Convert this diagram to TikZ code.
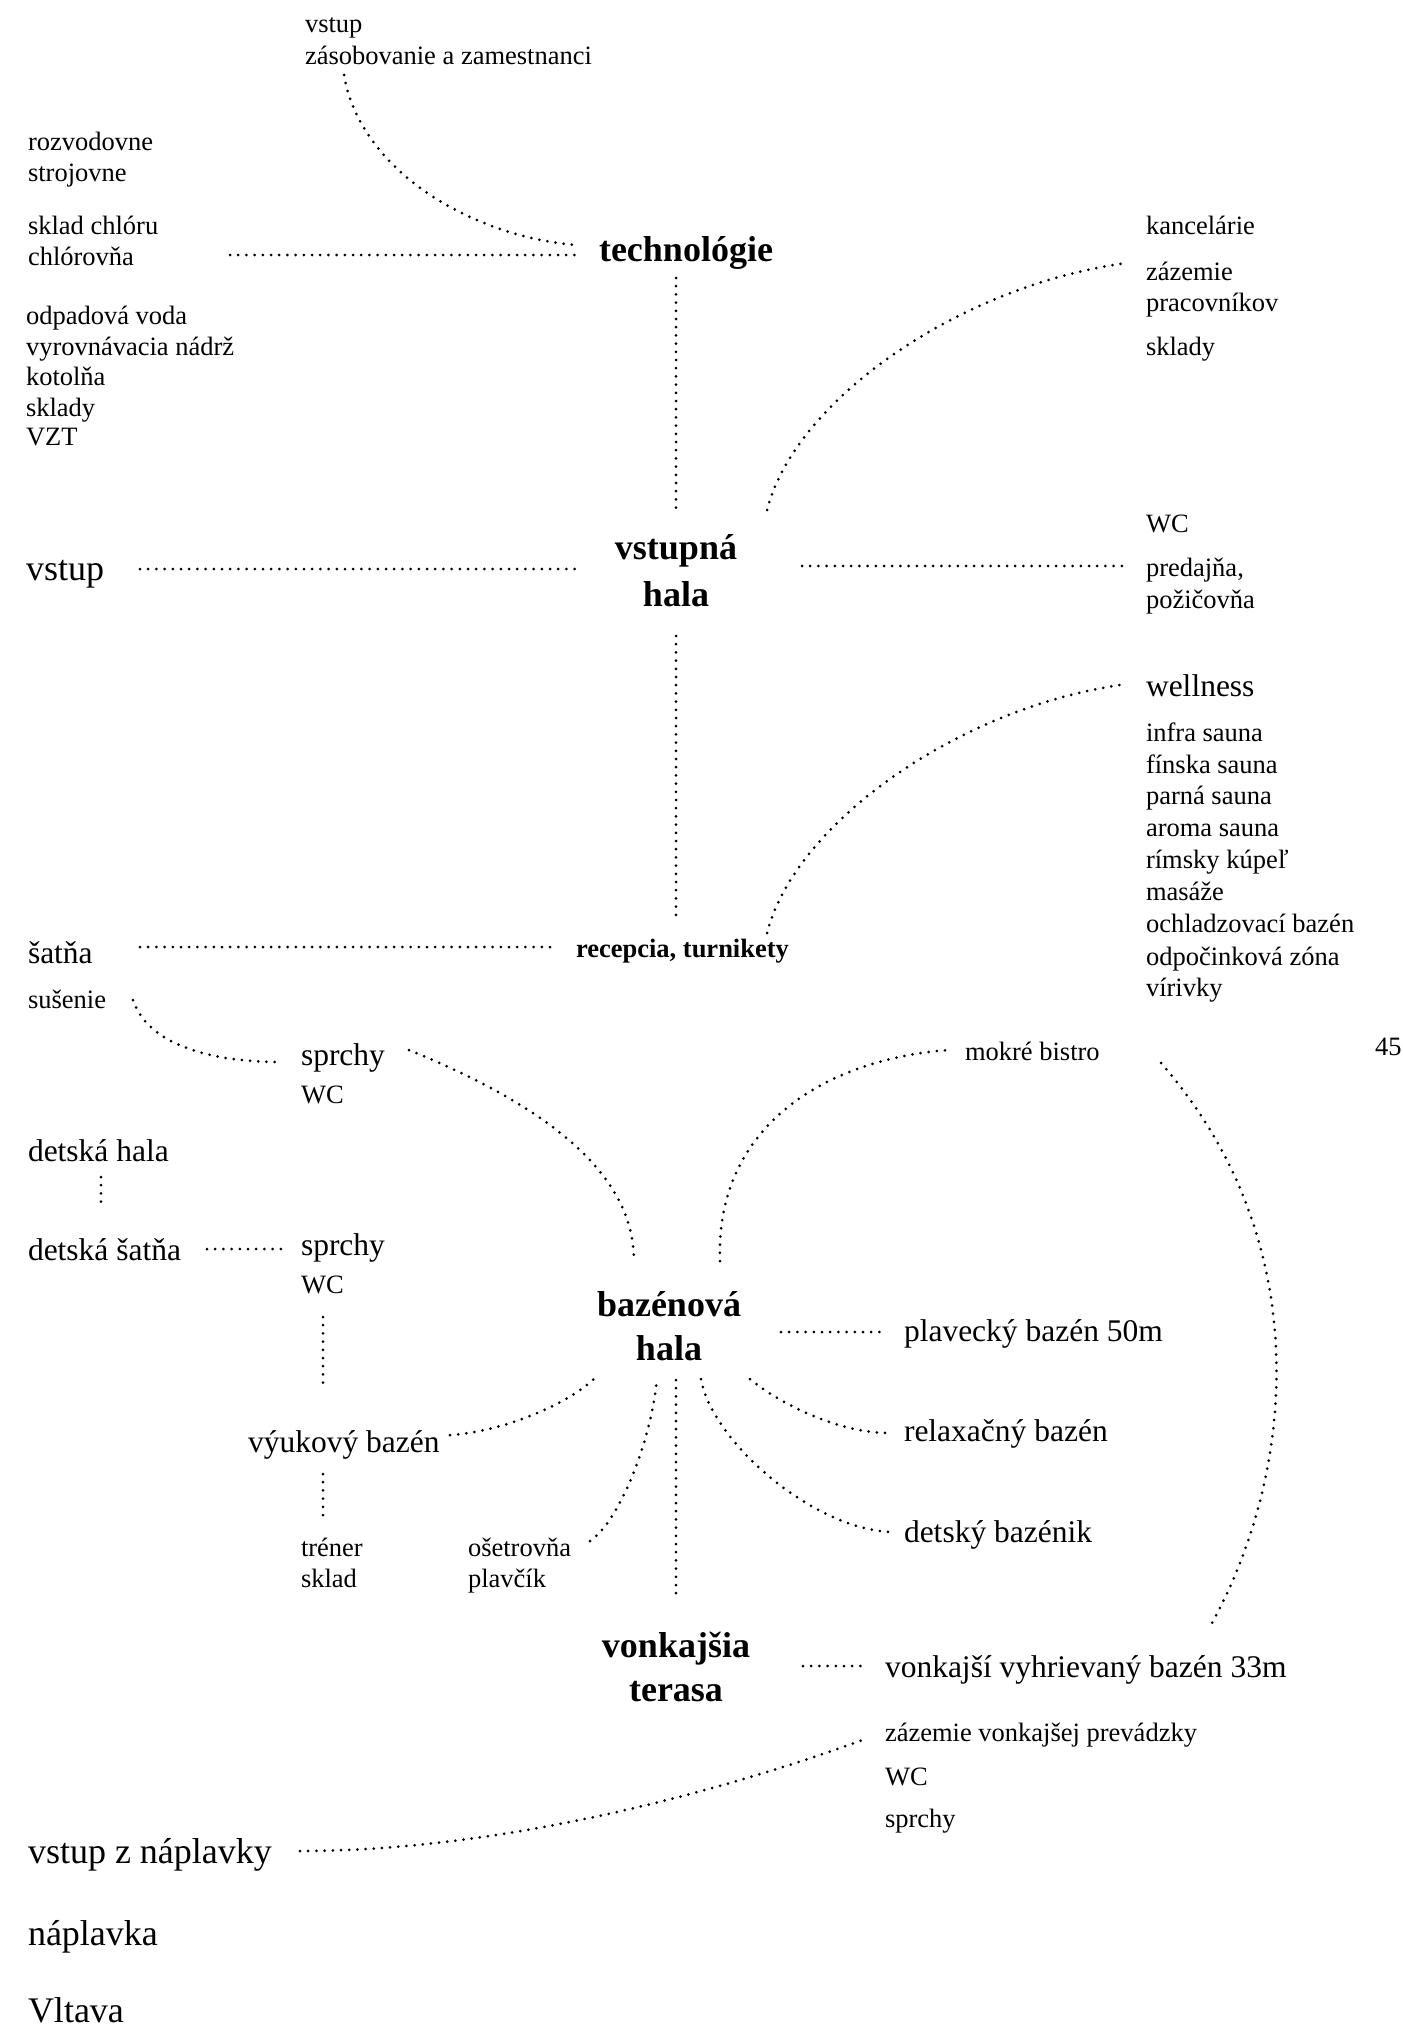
\documentclass[tikz,border=0pt]{standalone}
\usepackage{fontspec}
\setmainfont{Liberation Serif}
\usetikzlibrary{calc}
\begin{document}
\begin{tikzpicture}[x=1pt,y=-1pt,
  every node/.style={inner sep=0pt,outer sep=0pt},
  sm/.style={font=\fontsize{26.5}{31.5}\selectfont,anchor=mid west,yshift=-8pt},
  md/.style={font=\fontsize{31.5}{38}\selectfont,anchor=mid west,yshift=-9pt},
  lg/.style={font=\fontsize{36}{43}\selectfont,anchor=mid west,yshift=-9pt},
  hd/.style={font=\fontsize{36}{46}\selectfont\bfseries,anchor=mid,yshift=-9pt},
  rc/.style={font=\fontsize{26.5}{31.5}\selectfont\bfseries,anchor=mid west,yshift=-8pt},
  dots/.style={line width=3pt,line cap=round,dash pattern=on 0pt off 8.2pt}]
\fill[white] (0,0) rectangle (1402,2028);
\useasboundingbox (0,0) rectangle (1402,2028);

% headings
\node[hd] (tech) at (686,250) {technológie};
\node[hd] (vhA) at (676,548) {vstupná};
\node[hd] (vhB) at (676,595) {hala};
\node[rc] (rec) at (576,947) {recepcia, turnikety};
\node[hd] (bazA) at (669,1305) {bazénová};
\node[hd] (bazB) at (669,1349) {hala};
\node[hd] (vonA) at (676,1646) {vonkajšia};
\node[hd] (vonB) at (676,1690) {terasa};

% top left
\node[sm] (vstT) at (305,22) {vstup};
\node[sm] (zas) at (305,54) {zásobovanie a zamestnanci};
\node[sm] (roz) at (28,140) {rozvodovne};
\node[sm] (stro) at (28,171) {strojovne};
\node[sm] (sklc) at (28,224) {sklad chlóru};
\node[sm] (chl) at (28,255) {chlórovňa};
\node[sm] (odp) at (26,314) {odpadová voda};
\node[sm] (vyr) at (26,345) {vyrovnávacia nádrž};
\node[sm] (kot) at (26,375) {kotolňa};
\node[sm] (skd) at (26,406) {sklady};
\node[sm] (vzt) at (26,435) {VZT};

% right top
\node[sm] (kanc) at (1146,224) {kancelárie};
\node[sm] (zaz) at (1146,270) {zázemie};
\node[sm] (prac) at (1146,301) {pracovníkov};
\node[sm] (skl2) at (1146,345) {sklady};
\node[sm] (wc1) at (1146,522) {WC};
\node[sm] (pred) at (1146,566) {predajňa,};
\node[sm] (poz) at (1146,598) {požičovňa};

% wellness
\node[md] (well) at (1146,685) {wellness};
\node[sm] (inf) at (1146,731) {infra sauna};
\node[sm] (fin) at (1146,763) {fínska sauna};
\node[sm] (par) at (1146,794) {parná sauna};
\node[sm] (aro) at (1146,826) {aroma sauna};
\node[sm] (rim) at (1146,858) {rímsky kúpeľ};
\node[sm] (mas) at (1146,890) {masáže};
\node[sm] (och) at (1146,922) {ochladzovací bazén};
\node[sm] (odpo) at (1146,955) {odpočinková zóna};
\node[sm] (vir) at (1146,986) {vírivky};
\node[sm] (page) at (1375,1045) {45};

% left middle
\node[lg] (vstL) at (26,569) {vstup};
\node[md] (satna) at (28,952) {šatňa};
\node[sm] (sus) at (28,998) {sušenie};
\node[md] (spA) at (301,1054) {sprchy};
\node[sm] (wcA) at (301,1093) {WC};
\node[md] (dh) at (28,1150) {detská hala};
\node[md] (dsat) at (28,1249) {detská šatňa};
\node[md] (spB) at (301,1244) {sprchy};
\node[sm] (wcB) at (301,1283) {WC};
\node[md] (vyuk) at (248,1441) {výukový bazén};
\node[sm] (tren) at (301,1546) {tréner};
\node[sm] (skla) at (301,1577) {sklad};
\node[sm] (oset) at (468,1546) {ošetrovňa};
\node[sm] (plc) at (468,1577) {plavčík};

% right middle
\node[sm] (bis) at (965,1050) {mokré bistro};
\node[md] (plav) at (904,1330) {plavecký bazén 50m};
\node[md] (rel) at (904,1430) {relaxačný bazén};
\node[md] (det) at (904,1531) {detský bazénik};
\node[md] (von33) at (885,1666) {vonkajší vyhrievaný bazén 33m};
\node[sm] (zvp) at (885,1731) {zázemie vonkajšej prevádzky};
\node[sm] (wcC) at (885,1775) {WC};
\node[sm] (spC) at (885,1817) {sprchy};

% bottom
\node[lg] (vnap) at (28,1852) {vstup z náplavky};
\node[lg] (napl) at (28,1934) {náplavka};
\node[lg] (vlt) at (28,2011) {Vltava};

% connectors
\draw[dots] ($(zas.mid west)+(39,13)$) .. controls +(16,95) and +(-106,-9) .. ($(tech.mid)+(-110,-14)$);
\draw[dots] ($(chl.mid west)+(202,-8)$) -- ($(tech.mid)+(-108,-4)$);
\draw[dots] ($(tech.mid)+(-10,19)$) -- ($(vhA.mid)+(0,-45)$);
\draw[dots] ($(vstL.mid west)+(114,-9)$) -- ($(vhA.mid)+(-98,12)$);
\draw[dots] ($(vhA.mid)+(126,9)$) -- ($(pred.mid west)+(-19,-8)$);
\draw[dots] ($(vhA.mid)+(91,-47)$) .. controls +(28,-110) and +(-167,22) .. ($(zaz.mid west)+(-19,-15)$);
\draw[dots] ($(vhB.mid)+(0,32)$) -- ($(rec.mid west)+(100,-35)$);
\draw[dots] ($(satna.mid west)+(112,-14)$) -- ($(rec.mid west)+(-26,-8)$);
\draw[dots] ($(rec.mid west)+(191,-22)$) .. controls +(28,-110) and +(-167,22) .. ($(well.mid west)+(-19,-10)$);
\draw[dots] ($(sus.mid west)+(105,-6)$) .. controls +(15,45) and +(-70,0) .. ($(spA.mid west)+(-20,-1)$);
\draw[dots] ($(spA.mid west)+(108,-13)$) .. controls +(110,45) and +(0,-100) .. ($(bazA.mid)+(-35,-53)$);
\draw[dots] ($(dh.mid west)+(73,18)$) -- ($(dsat.mid west)+(73,-49)$);
\draw[dots] ($(dsat.mid west)+(179,-9)$) -- ($(spB.mid west)+(-19,-4)$);
\draw[dots] ($(wcB.mid west)+(22,26)$) -- ($(vyuk.mid west)+(75,-60)$);
\draw[dots] ($(vyuk.mid west)+(202,-15)$) .. controls +(50,-3) and +(-30,30) .. ($(bazB.mid)+(-72,18)$);
\draw[dots] ($(vyuk.mid west)+(75,24)$) -- ($(tren.mid west)+(22,-38)$);
\draw[dots] ($(oset.mid west)+(122,-13)$) .. controls +(30,-20) and +(-5,60) .. ($(bazB.mid)+(-12,20)$);
\draw[dots] ($(bazB.mid)+(7,22)$) -- ($(vonA.mid)+(0,-54)$);
\draw[dots] ($(bazA.mid)+(51,-53)$) .. controls +(-5,-131) and +(-128,10) .. ($(bis.mid west)+(-17,-8)$);
\draw[dots] ($(bazA.mid)+(112,18)$) -- ($(plav.mid west)+(-19,-7)$);
\draw[dots] ($(bazB.mid)+(81,21)$) .. controls +(30,25) and +(-50,0) .. ($(rel.mid west)+(-15,-6)$);
\draw[dots] ($(bazB.mid)+(32,21)$) .. controls +(10,60) and +(-80,-5) .. ($(det.mid west)+(-15,-8)$);
\draw[dots] ($(vir.mid west)+(15,69)$) .. controls +(155,177) and +(84,-153) .. ($(von33.mid west)+(327,-52)$);
\draw[dots] ($(vonA.mid)+(127,11)$) -- ($(von33.mid west)+(-21,-9)$);
\draw[dots] ($(vnap.mid west)+(272,-10)$) .. controls +(200,0) and +(-150,55) .. ($(zvp.mid west)+(-17,-1)$);
\end{tikzpicture}
\end{document}
